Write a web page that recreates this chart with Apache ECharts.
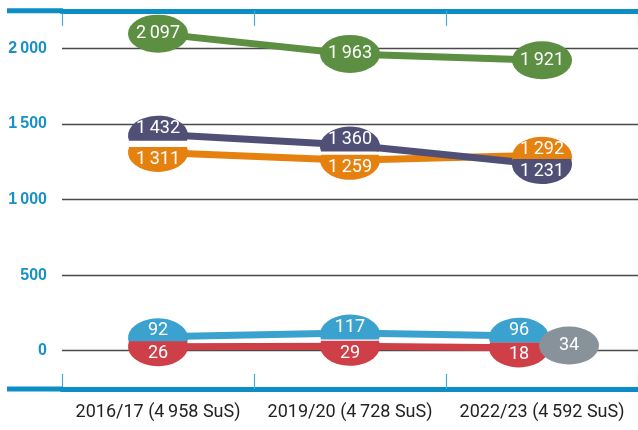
<!DOCTYPE html>
<html>
<head>
<meta charset="utf-8">
<script src="https://cdn.jsdelivr.net/npm/echarts@6/dist/echarts.min.js"></script>
<style>
html,body{margin:0;padding:0;background:#fff;}
#c{width:638px;height:430px;}
</style>
</head>
<body>
<div id="c"></div>
<script>
// ---- data ----
const categories = ['2016/17 (4\u2009958 SuS)', '2019/20 (4\u2009728 SuS)', '2022/23 (4\u2009592 SuS)'];
const green  = [2097, 1963, 1921];
const purple = [1432, 1360, 1231];
const orange = [1311, 1259, 1292];
const blue   = [92, 117, 96];
const red    = [26, 29, 18];
const gray   = [null, null, 34];
const yTicks = [0, 500, 1000, 1500, 2000];

// ---- styling ----
const C = {
  green: '#5c8f41', purple: '#504f76', orange: '#e5820f',
  blue: '#3ba2cf', red: '#cf3f48', gray: '#87929a',
  axis: '#0b8ec4', tick: '#4aa9d6', ylab: '#1890c6'
};
const NARROW = "Roboto, 'Liberation Sans', sans-serif";
const ELL = 'circle';
const TOP = 'path://M1.06,24 A30,19 0 1 1 58.94,24 Z';
const BOTTOM = 'path://M1.06,14 A30,19 0 1 0 58.94,14 Z';
const GRAY_NUDGE = 27;     // gray marker sits right of the category centre
const SIDE_NUDGE = -23;    // blue/red markers shift left where the gray marker is
const fmt = v => String(v).replace(/\B(?=(\d{3})+(?!\d))/g, '\u2009');

const label = {
  show: true, position: 'inside', color: '#fff', fontSize: 18,
  fontFamily: NARROW, formatter: p => fmt(p.value[1])
};

function lineSeries(name, arr, color) {
  return {
    type: 'line', name, data: arr, showSymbol: false, clip: false, z: 2,
    lineStyle: { width: 7, color }, itemStyle: { color }, silent: true
  };
}
function fullDots(name, arr, color, z, offset) {
  const data = [];
  arr.forEach((v, i) => { if (v != null) data.push({ value: [i, v] }); });
  return {
    type: 'scatter', name, data, clip: false, z: z || 3,
    symbol: ELL, symbolSize: [60, 38], symbolOffset: offset || [0, 0],
    itemStyle: { color, opacity: 1 }, label, silent: true
  };
}
function pairDots(name, arr, other, color, makeRoom) {
  const data = arr.map((v, i) => {
    const top = v >= other[i];
    const dx = (makeRoom && gray[i] != null) ? SIDE_NUDGE : 0;
    return { value: [i, v], symbol: top ? TOP : BOTTOM, symbolOffset: [dx, top ? -6 : 7] };
  });
  return {
    type: 'scatter', name, data, clip: false, z: 3,
    symbolSize: [60, 25], itemStyle: { color, opacity: 1 }, label, silent: true
  };
}

const chart = echarts.init(document.getElementById('c'), null, { renderer: 'canvas' });
chart.setOption({
  animation: false,
  backgroundColor: '#fff',
  grid: { left: 62, right: -3, top: 48.3, bottom: 79.3 },
  xAxis: [
    {
      type: 'category', data: categories, position: 'bottom', offset: 38.3,
      axisLine: { onZero: false, lineStyle: { color: C.axis, width: 5 } },
      axisTick: { show: true, inside: true, length: 15, lineStyle: { color: C.tick, width: 1.2 } },
      axisLabel: { color: '#222', fontSize: 18, fontFamily: NARROW, margin: 14, interval: 0, hideOverlap: false }
    },
    {
      type: 'category', data: categories, position: 'top', offset: 37.5,
      axisLine: { onZero: false, lineStyle: { color: C.axis, width: 5 } },
      axisTick: { show: true, inside: true, length: 15, lineStyle: { color: C.tick, width: 1.2 } },
      axisLabel: { show: false }
    }
  ],
  yAxis: {
    type: 'value', min: yTicks[0], max: yTicks[yTicks.length - 1], interval: yTicks[1] - yTicks[0],
    axisLine: { show: false }, axisTick: { show: false },
    splitLine: { lineStyle: { color: '#4a4a4a', width: 1.3 } },
    axisLabel: {
      color: C.ylab, fontSize: 16, fontWeight: 'bold', fontFamily: "'Liberation Sans', Arial, sans-serif",
      margin: 15, formatter: v => fmt(v)
    }
  },
  graphic: [
    { type: 'rect', left: 7, top: 8.3, shape: { width: 56, height: 5 }, style: { fill: C.axis }, z: 10 },
    { type: 'rect', left: 7, top: 386.5, shape: { width: 56, height: 5 }, style: { fill: C.axis }, z: 10 }
  ],
  series: [
    lineSeries('green', green, C.green),
    lineSeries('orange', orange, C.orange),
    lineSeries('purple', purple, C.purple),
    lineSeries('blue', blue, C.blue),
    lineSeries('red', red, C.red),
    fullDots('green', green, C.green),
    pairDots('orange', orange, purple, C.orange, false),
    pairDots('purple', purple, orange, C.purple, false),
    pairDots('blue', blue, red, C.blue, true),
    pairDots('red', red, blue, C.red, true),
    fullDots('gray', gray, C.gray, 4, [GRAY_NUDGE, 0])
  ]
});
</script>
</body>
</html>
